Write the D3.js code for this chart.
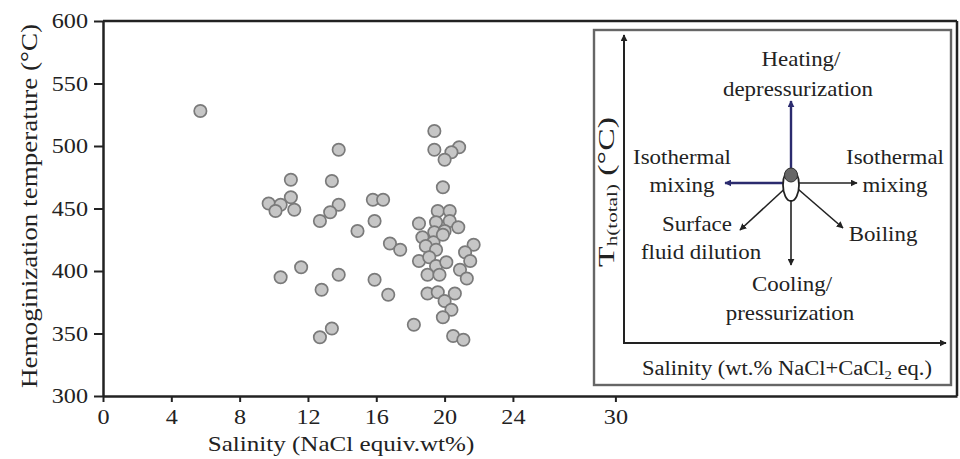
<!DOCTYPE html>
<html><head><meta charset="utf-8">
<script src="https://cdn.jsdelivr.net/npm/d3@7"></script>
<style>
html,body{margin:0;padding:0;background:#fff;}
svg text{font-family:"Liberation Serif","Times New Roman",serif;fill:#222;}
</style></head>
<body><svg id="c" width="960" height="459"></svg>
<script>
const salinity = [5.7,13.8,11.0,13.4,9.7,10.4,10.1,11.0,11.2,13.8,13.3,12.7,14.9,11.6,10.4,13.8,12.8,13.4,12.7,15.8,16.4,15.9,16.8,17.4,15.9,16.7,
19.4,19.4,20.85,20.4,20.0,19.9,19.6,20.3,18.5,19.5,20.3,20.8,19.4,20.0,18.7,19.35,19.9,18.9,19.5,21.7,21.2,21.5,18.5,19.1,19.5,20.1,20.9,19.0,19.7,21.3,19.0,19.6,20.6,20.0,20.4,19.9,18.2,20.5,21.1];
const temperature = [528,497,473,472,454,453,448,459,449,453,447,440,432,403,395,397,385,354,347,457,457,440,422,417,393,381,
512,497,499,495,489,467,448,448,438,439,440,435,431,432,427,423,429,420,417,421,415,408,408,411,404,407,401,397,397,394,382,383,382,376,369,363,357,348,345];
const xTicks = [0,4,8,12,16,20,24,30];
const yTicks = [300,350,400,450,500,550,600];
const xTitle = "Salinity (NaCl equiv.wt%)";
const yTitle = "Hemoginization temperature (°C)";

const svg = d3.select("#c");
const x = d3.scaleLinear().domain([0,50]).range([103,957]);
const y = d3.scaleLinear().domain([300,600]).range([396,21]);

// widen text horizontally (reference glyphs are stretched)
function stretch(sel, f){
  sel.each(function(){
    const L = this.getComputedTextLength();
    d3.select(this).attr("textLength", L*f).attr("lengthAdjust","spacingAndGlyphs");
  });
}

svg.append("line").attr("x1",103).attr("x2",957).attr("y1",21).attr("y2",21).attr("stroke","#222").attr("stroke-width",2.5);
svg.append("line").attr("x1",957).attr("x2",957).attr("y1",21).attr("y2",396).attr("stroke","#222").attr("stroke-width",2.5);

const xa = svg.append("g").attr("transform","translate(0,396)")
  .call(d3.axisBottom(x).tickValues(xTicks).tickSize(6).tickSizeOuter(0).tickPadding(7));
const ya = svg.append("g").attr("transform","translate(103,0)")
  .call(d3.axisLeft(y).tickValues(yTicks).tickSize(9).tickSizeOuter(0).tickPadding(6));
[xa,ya].forEach(a=>{
  a.select(".domain").attr("stroke","#222").attr("stroke-width",2.5);
  a.selectAll(".tick line").attr("stroke","#222").attr("stroke-width",2);
  a.selectAll(".tick text").style("font-family","Liberation Serif, serif").style("font-size","21px").attr("fill","#222");
  stretch(a.selectAll(".tick text"), 1.15);
});

const xt = svg.append("text").attr("x",341).attr("y",451).attr("text-anchor","middle").style("font-size","22px").text(xTitle);
stretch(xt, 1.14);
const yt = svg.append("text").attr("transform","translate(37,206) rotate(-90)").attr("text-anchor","middle").style("font-size","24px").text(yTitle);
yt.attr("textLength",364).attr("lengthAdjust","spacingAndGlyphs");

svg.append("g").selectAll("circle").data(salinity.map((s,i)=>[s,temperature[i]])).join("circle")
  .attr("cx",d=>x(d[0])).attr("cy",d=>y(d[1])).attr("r",6.2)
  .attr("fill","#c6c6c6").attr("stroke","#7a7a7a").attr("stroke-width",1.7);

// inset
const ins = svg.append("g");
ins.append("rect").attr("x",594).attr("y",30).attr("width",357).attr("height",355)
  .attr("fill","#fff").attr("stroke","#666").attr("stroke-width",2.4);

const defs = svg.append("defs");
function mk(id,col){
  defs.append("marker").attr("id",id).attr("viewBox","0 0 10 10").attr("refX",9).attr("refY",5)
   .attr("markerWidth",7).attr("markerHeight",7).attr("orient","auto-start-reverse").attr("markerUnits","userSpaceOnUse")
   .append("path").attr("d","M0,0 L10,5 L0,10 z").attr("fill",col);
}
mk("ab","#222"); mk("an","#2b2b6e");

const cx=791, cy=183;
ins.append("line").attr("x1",624).attr("y1",343).attr("x2",624).attr("y2",35).attr("stroke","#222").attr("stroke-width",2).attr("marker-end","url(#ab)");
ins.append("line").attr("x1",623).attr("y1",343).attr("x2",946).attr("y2",343).attr("stroke","#222").attr("stroke-width",2).attr("marker-end","url(#ab)");

const arrows = [
  {x2:cx, y2:101, col:"#2b2b6e", m:"an", w:2.4},
  {x2:725, y2:cy, col:"#2b2b6e", m:"an", w:2.4},
  {x2:857, y2:cy, col:"#222", m:"ab", w:1.6},
  {x2:cx, y2:265, col:"#222", m:"ab", w:1.6},
  {x2:740, y2:230, col:"#222", m:"ab", w:1.6},
  {x2:843, y2:228, col:"#222", m:"ab", w:1.6}
];
ins.selectAll("line.arr").data(arrows).join("line").attr("class","arr")
  .attr("x1",cx).attr("y1",cy).attr("x2",d=>d.x2).attr("y2",d=>d.y2)
  .attr("stroke",d=>d.col).attr("stroke-width",d=>d.w).attr("marker-end",d=>`url(#${d.m})`);
ins.append("ellipse").attr("cx",cx).attr("cy",cy+2).attr("rx",8).attr("ry",16).attr("fill","#fff").attr("stroke","#222").attr("stroke-width",1.8);
ins.append("ellipse").attr("cx",cx).attr("cy",cy-8).attr("rx",6.5).attr("ry",7).attr("fill","#666").attr("stroke","#333").attr("stroke-width",1);

const labels = [
  ["Heating/",801,66],["depressurization",798,96],
  ["Isothermal",682,164],["mixing",682,192],
  ["Isothermal",895,164],["mixing",895,192],
  ["Surface",697,231],["fluid dilution",701,259],
  ["Boiling",883,241],
  ["Cooling/",792,291],["pressurization",790,320]
];
const lb = ins.selectAll("text.lb").data(labels).join("text").attr("class","lb")
  .attr("x",d=>d[1]).attr("y",d=>d[2]).attr("text-anchor","middle").style("font-size","21px").text(d=>d[0]);
stretch(lb, 1.09);

const sx = ins.append("text").attr("x",787).attr("y",375).attr("text-anchor","middle").style("font-size","20px")
  .html('Salinity (wt.% NaCl+CaCl<tspan font-size="13" dy="4">2</tspan><tspan dy="-4"> eq.)</tspan>');
sx.attr("textLength",290).attr("lengthAdjust","spacingAndGlyphs");
const sy = ins.append("text").attr("transform","translate(614,192) rotate(-90)").attr("text-anchor","middle").style("font-size","24px")
  .html('T<tspan font-size="15" dy="3">h(total)</tspan><tspan dy="-3"> (°C)</tspan>');
sy.attr("textLength",150).attr("lengthAdjust","spacingAndGlyphs");
</script></body></html>
